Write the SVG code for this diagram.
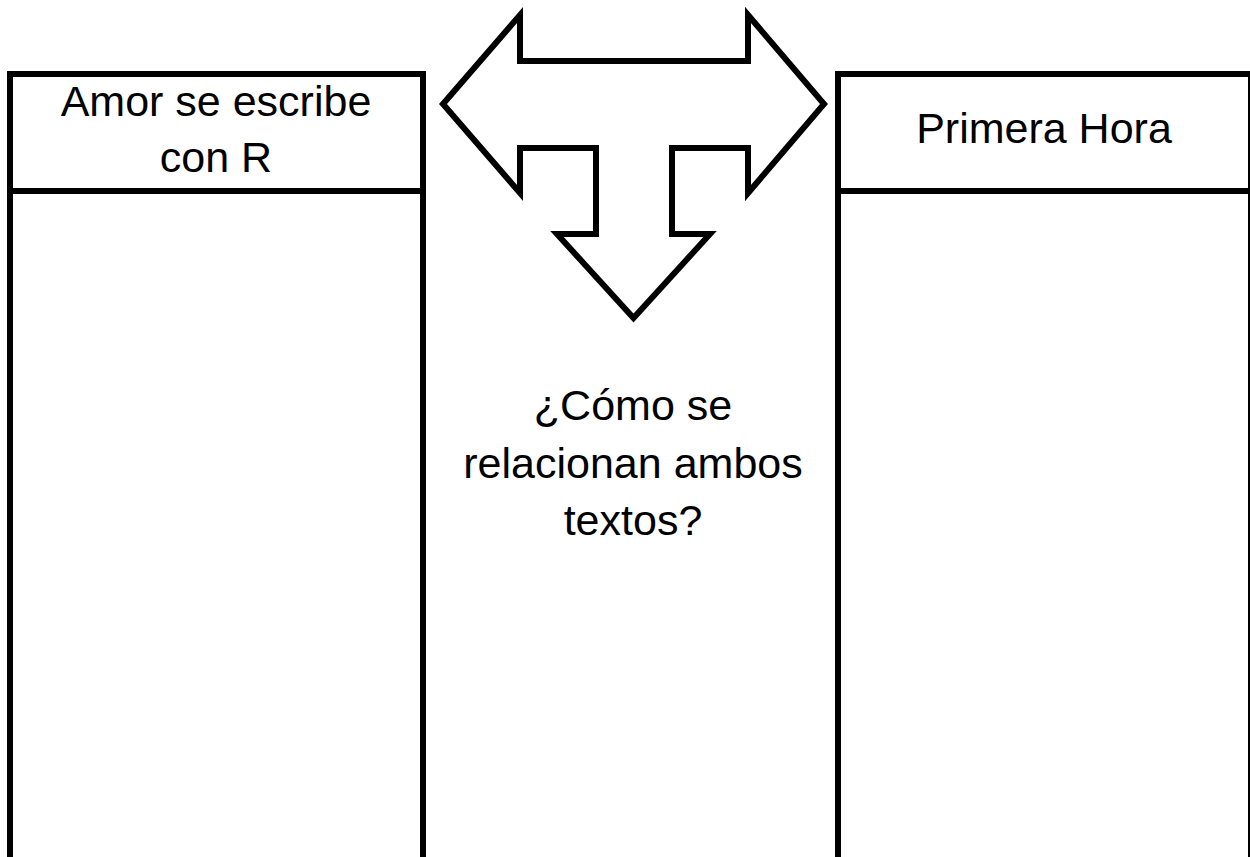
<svg xmlns="http://www.w3.org/2000/svg" width="1250" height="857" viewBox="0 0 1250 857">
<style>
.b{fill:#fff;stroke:#000;stroke-width:6}
.t{font-family:"Liberation Sans",Arial,sans-serif;font-size:43px;fill:#000;text-anchor:middle}
</style>
<rect width="1250" height="857" fill="#fff"/>
<g id="left-column">
<rect class="b" x="10" y="74" width="413" height="800"/>
<line x1="10" y1="191" x2="423" y2="191" stroke="#000" stroke-width="6"/>
<text class="t" x="216" y="116">Amor se escribe</text>
<text class="t" x="216" y="172">con R</text>
</g>
<g id="right-column">
<rect class="b" x="838" y="74" width="413" height="800"/>
<line x1="838" y1="191" x2="1251" y2="191" stroke="#000" stroke-width="6"/>
<text class="t" x="1044" y="143">Primera Hora</text>
</g>
<g id="connectors">
<path class="b" d="M443,104 L520,15 L520,61 L748,61 L748,15 L824,104 L748,193 L748,148 L672,148 L672,234 L710,234 L633.5,318 L557,234 L596,234 L596,148 L520,148 L520,193 Z"/>
</g>
<g id="question">
<text class="t" x="633" y="420">¿Cómo se</text>
<text class="t" x="633" y="478">relacionan ambos</text>
<text class="t" x="633" y="535">textos?</text>
</g>
</svg>
